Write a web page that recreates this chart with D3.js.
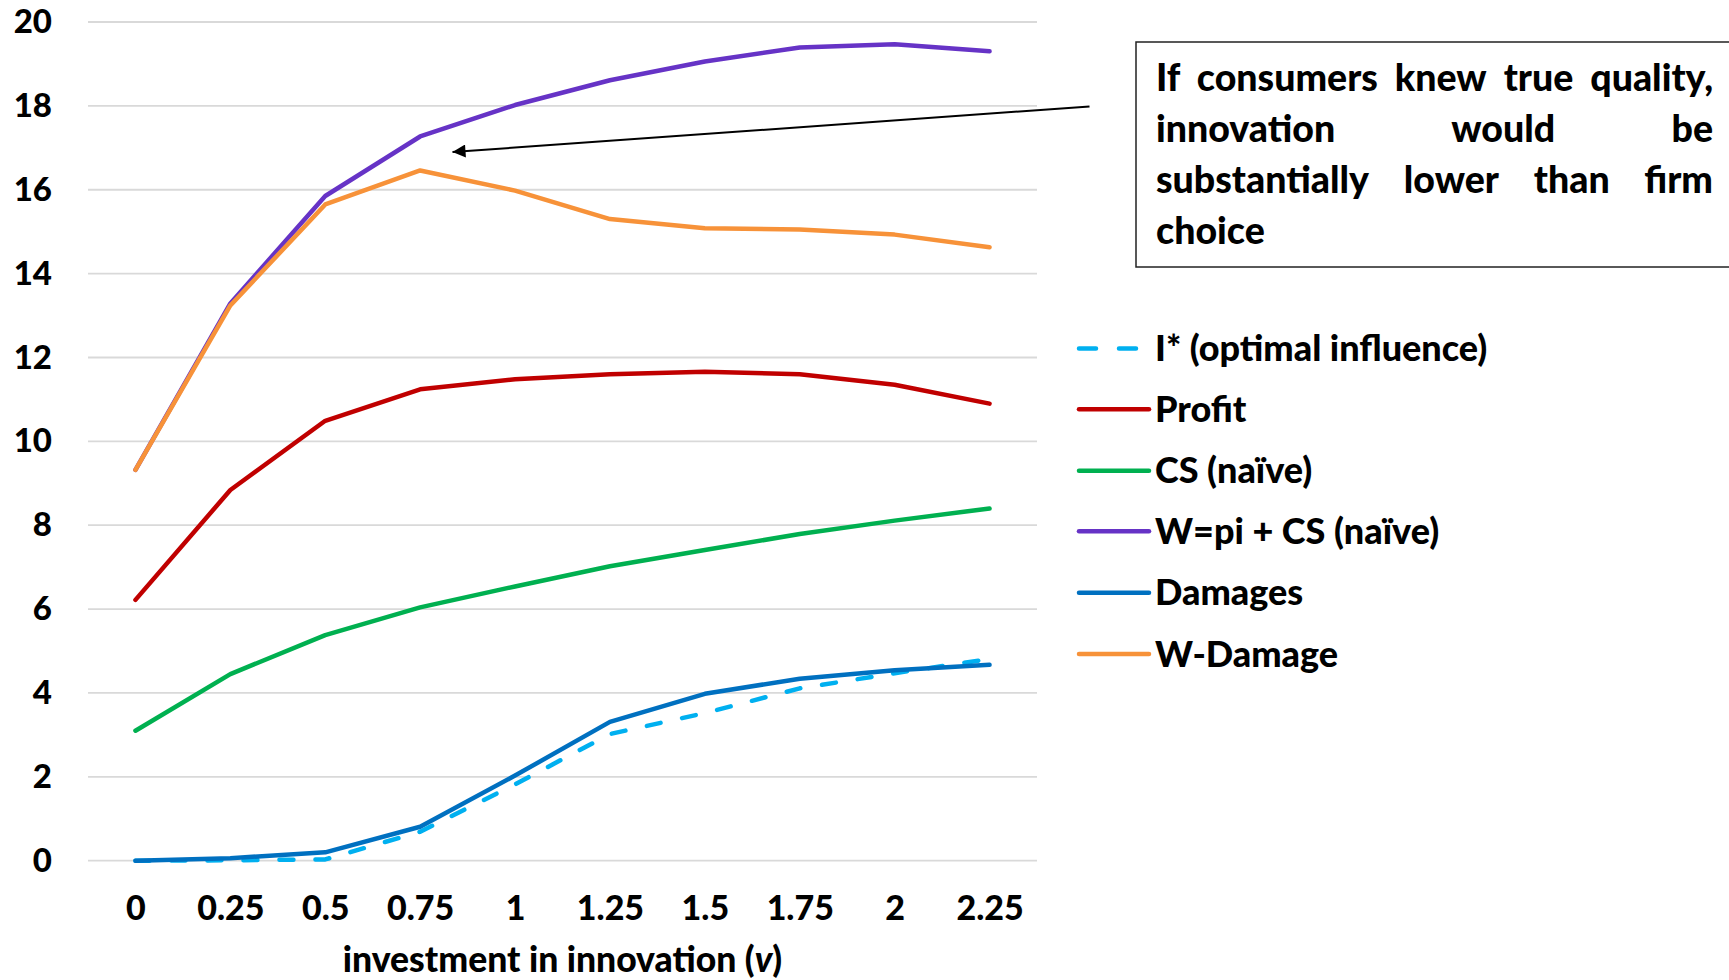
<!DOCTYPE html>
<html>
<head>
<meta charset="utf-8">
<script src="https://cdn.jsdelivr.net/npm/d3@7/dist/d3.min.js"></script>
<style>
  html, body { margin: 0; padding: 0; background: #fff; overflow: hidden; }
  svg { display: block; font-family: "Lato", "Open Sans", "DejaVu Sans", sans-serif; font-weight: 900; }
</style>
</head>
<body>
<svg id="chart" width="1729" height="980"></svg>
<script>
// Investment levels (x categories)
const categories = ["0", "0.25", "0.5", "0.75", "1", "1.25", "1.5", "1.75", "2", "2.25"];

// Series values, one per investment level
const iStar    = [0, 0.01, 0.03, 0.69, 1.82, 3.02, 3.52, 4.11, 4.47, 4.81];
const profit   = [6.22, 8.84, 10.49, 11.24, 11.48, 11.60, 11.66, 11.60, 11.35, 10.90];
const csNaive  = [3.10, 4.45, 5.38, 6.04, 6.54, 7.02, 7.41, 7.79, 8.11, 8.40];
const welfare  = [9.32, 13.29, 15.85, 17.27, 18.02, 18.61, 19.06, 19.39, 19.47, 19.30];
const damages  = [0, 0.06, 0.20, 0.81, 2.03, 3.31, 3.98, 4.34, 4.54, 4.67];
const wDamage  = [9.32, 13.24, 15.65, 16.46, 15.98, 15.30, 15.08, 15.05, 14.93, 14.63];

const yTicks = [0, 2, 4, 6, 8, 10, 12, 14, 16, 18, 20];

const seriesNames  = ["I* (optimal influence)", "Profit", "CS (naïve)", "W=pi + CS (naïve)", "Damages", "W-Damage"];
const seriesColors = ["#00B0F0", "#C00000", "#00B050", "#6633C6", "#0070C0", "#F79239"];
const seriesDashed = [true, false, false, false, false, false];
const seriesValues = [iStar, profit, csNaive, welfare, damages, wDamage];

const annotationLines = [
  "If consumers knew true quality,",
  "innovation would be",
  "substantially lower than firm",
  "choice"
];

const svg = d3.select("#chart");

const plot = { left: 88, right: 1037, top: 22, bottom: 860.7 };

const x = d3.scalePoint().domain(categories).range([plot.left, plot.right]).padding(0.5);
const y = d3.scaleLinear().domain([0, 20]).range([plot.bottom, plot.top]);

// horizontal gridlines
svg.append("g")
  .selectAll("line")
  .data(yTicks)
  .join("line")
  .attr("x1", plot.left).attr("x2", plot.right)
  .attr("y1", d => y(d)).attr("y2", d => y(d))
  .attr("stroke", "#D9D9D9")
  .attr("stroke-width", 1.8);

// y axis labels
const yAxis = svg.append("g")
  .attr("transform", `translate(${plot.left},0)`)
  .call(d3.axisLeft(y).tickValues(yTicks).tickSize(0).tickPadding(36).tickFormat(d3.format("d")));
yAxis.select(".domain").remove();
yAxis.selectAll("text")
  .attr("font-family", "Lato, sans-serif")
  .attr("font-weight", 900)
  .attr("font-size", 33)
  .attr("fill", "#000");

// x axis labels
const xAxis = svg.append("g")
  .attr("transform", `translate(0,${plot.bottom})`)
  .call(d3.axisBottom(x).tickSize(0));
xAxis.select(".domain").remove();
xAxis.selectAll("text")
  .attr("dy", null)
  .attr("y", 59)
  .attr("font-family", "Lato, sans-serif")
  .attr("font-weight", 900)
  .attr("font-size", 34)
  .attr("fill", "#000");

// x axis title
const xTitle = svg.append("text")
  .attr("x", (plot.left + plot.right) / 2)
  .attr("y", 972)
  .attr("text-anchor", "middle")
  .attr("font-size", 35.5)
  .attr("fill", "#000");
xTitle.append("tspan").text("investment in innovation (");
xTitle.append("tspan").attr("font-style", "italic").text("v");
xTitle.append("tspan").text(")");

// series lines
const line = d3.line()
  .x((d, i) => x(categories[i]))
  .y(d => y(d));

svg.append("g")
  .selectAll("path")
  .data(seriesValues)
  .join("path")
  .attr("d", d => line(d))
  .attr("fill", "none")
  .attr("stroke", (d, i) => seriesColors[i])
  .attr("stroke-width", 4.5)
  .attr("stroke-linecap", "round")
  .attr("stroke-linejoin", "round")
  .attr("stroke-dasharray", (d, i) => seriesDashed[i] ? "14,22" : null);

// legend
const legendY = [348.5, 409.3, 470.7, 531.2, 592.7, 654];
const legend = svg.append("g")
  .selectAll("g")
  .data(seriesNames)
  .join("g")
  .attr("transform", (d, i) => `translate(0,${legendY[i]})`);
legend.append("line")
  .attr("x1", 1079).attr("x2", 1149)
  .attr("y1", 0).attr("y2", 0)
  .attr("stroke", (d, i) => seriesColors[i])
  .attr("stroke-width", 4.5)
  .attr("stroke-linecap", "round")
  .attr("stroke-dasharray", (d, i) => seriesDashed[i] ? "17,23" : null);
legend.append("text")
  .attr("x", 1155)
  .attr("y", 12.5)
  .attr("font-size", 36)
  .attr("fill", "#000")
  .text(d => d);

// annotation box with justified text
svg.append("rect")
  .attr("x", 1136).attr("y", 42)
  .attr("width", 700).attr("height", 225)
  .attr("fill", "#fff")
  .attr("stroke", "#222")
  .attr("stroke-width", 1.5);

const textLeft = 1156, textRight = 1713;
const baselines = [90.5, 141.7, 193, 244.3];
const ann = svg.append("g").attr("font-size", 37.5).attr("fill", "#000");
annotationLines.forEach((ln, li) => {
  const words = ln.split(" ");
  const t = ann.append("text").attr("y", baselines[li]);
  const spans = words.map(w => t.append("tspan").text(w));
  const widths = spans.map(s => s.node().getComputedTextLength());
  const total = d3.sum(widths);
  const last = li === annotationLines.length - 1;
  const spaceW = 9;
  const gap = (!last && words.length > 1) ? (textRight - textLeft - total) / (words.length - 1) : spaceW;
  let cx = textLeft;
  spans.forEach((s, k) => {
    s.attr("x", cx);
    cx += widths[k] + gap;
  });
});

// arrow pointing at the welfare curve
const defs = svg.append("defs");
defs.append("marker")
  .attr("id", "arrowhead")
  .attr("viewBox", "0 0 10 10")
  .attr("refX", 10).attr("refY", 5)
  .attr("markerUnits", "userSpaceOnUse")
  .attr("markerWidth", 16).attr("markerHeight", 13)
  .attr("orient", "auto")
  .append("path")
  .attr("d", "M0,0 L10,5 L0,10 Z")
  .attr("fill", "#000");
svg.append("line")
  .attr("x1", 1089.5).attr("y1", 106.5)
  .attr("x2", 452.5).attr("y2", 152)
  .attr("stroke", "#000")
  .attr("stroke-width", 2)
  .attr("marker-end", "url(#arrowhead)");
</script>
</body>
</html>
